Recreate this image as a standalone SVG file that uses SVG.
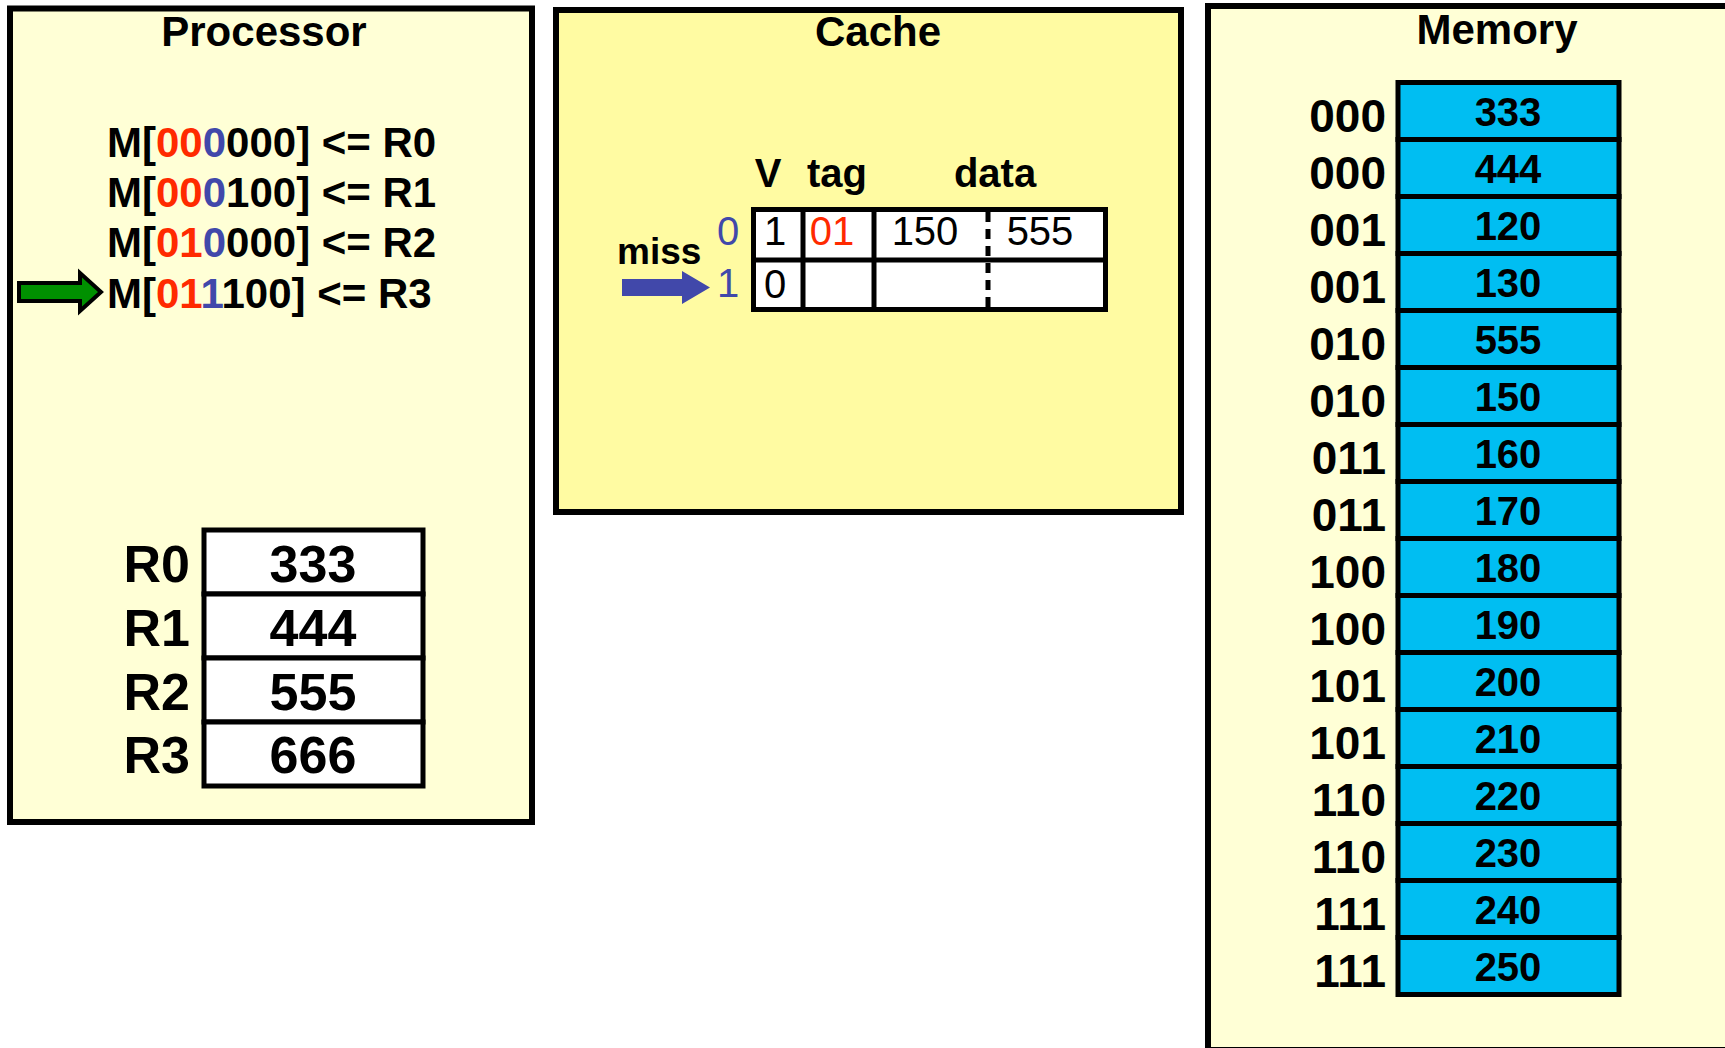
<svg xmlns="http://www.w3.org/2000/svg" width="1725" height="1048" viewBox="0 0 1725 1048">
  <style>
    text { font-family: "Liberation Sans", Arial, sans-serif; }
    .title { font-size: 42px; font-weight: bold; text-anchor: middle; fill: #000; }
    .instr { font-size: 42px; font-weight: bold; fill: #000; }
    .reg-label { font-size: 52px; font-weight: bold; text-anchor: end; }
    .reg-val { font-size: 52px; font-weight: bold; text-anchor: middle; }
    .hdr { font-size: 40px; font-weight: bold; text-anchor: middle; }
    .cell { font-size: 40px; text-anchor: middle; }
    .addr { font-size: 46px; font-weight: bold; text-anchor: end; }
    .mval { font-size: 40px; font-weight: bold; text-anchor: middle; }
    .tag { fill: #FF2A00; }
    .idx { fill: #4148AA; }
    .panel { stroke: #000; stroke-width: 6; }
    .grid { fill: #fff; stroke: #000; stroke-width: 5; }
    .mcell { fill: #00BEF2; stroke: #000; stroke-width: 5; }
  </style>

  <rect width="1725" height="1048" fill="#fff"/>

  <!-- Processor: pending stores and register file -->
  <g id="processor">
    <rect class="panel" x="10" y="8.5" width="522" height="813.5" fill="#FFFFD6"/>
    <text class="title" x="264" y="46">Processor</text>
    <text class="instr" x="107" y="157">M[<tspan class="tag">00</tspan><tspan class="idx">0</tspan>000] &lt;= R0</text>
    <text class="instr" x="107" y="207">M[<tspan class="tag">00</tspan><tspan class="idx">0</tspan>100] &lt;= R1</text>
    <text class="instr" x="107" y="257">M[<tspan class="tag">01</tspan><tspan class="idx">0</tspan>000] &lt;= R2</text>
    <text class="instr" x="107" y="308">M[<tspan class="tag">01</tspan><tspan class="idx">1</tspan>100] &lt;= R3</text>
    <g id="registers">
      <rect class="grid" x="204" y="530" width="219" height="64"/>
      <rect class="grid" x="204" y="594" width="219" height="64"/>
      <rect class="grid" x="204" y="658" width="219" height="64"/>
      <rect class="grid" x="204" y="722" width="219" height="64"/>
      <text class="reg-label" x="190" y="582">R0</text>
      <text class="reg-label" x="190" y="646">R1</text>
      <text class="reg-label" x="190" y="710">R2</text>
      <text class="reg-label" x="190" y="773">R3</text>
      <text class="reg-val" x="313" y="582">333</text>
      <text class="reg-val" x="313" y="646">444</text>
      <text class="reg-val" x="313" y="710">555</text>
      <text class="reg-val" x="313" y="773">666</text>
    </g>
  </g>

  <!-- Cache: two-line direct-mapped cache, two words per line -->
  <g id="cache">
    <rect class="panel" x="556" y="10" width="625" height="502" fill="#FFFBA2"/>
    <text class="title" x="878" y="46">Cache</text>
    <text class="hdr" x="768" y="187">V</text>
    <text class="hdr" x="837" y="187">tag</text>
    <text class="hdr" x="995" y="187">data</text>
    <rect x="753.5" y="209.5" width="352" height="100" fill="#fff" stroke="#000" stroke-width="5"/>
    <line x1="753.5" y1="260" x2="1105.5" y2="260" stroke="#000" stroke-width="5"/>
    <line x1="803" y1="209.5" x2="803" y2="309.5" stroke="#000" stroke-width="5"/>
    <line x1="874" y1="209.5" x2="874" y2="309.5" stroke="#000" stroke-width="5"/>
    <line x1="988" y1="212" x2="988" y2="307" stroke="#000" stroke-width="5" stroke-dasharray="10 7"/>
    <text class="cell idx" x="728" y="245">0</text>
    <text class="cell idx" x="728" y="297">1</text>
    <text class="cell" x="775" y="245">1</text>
    <text class="cell tag" x="832" y="245">01</text>
    <text class="cell" x="925" y="245">150</text>
    <text class="cell" x="1040" y="245">555</text>
    <text class="cell" x="775" y="298">0</text>
    <text x="617" y="264" font-size="37" font-weight="bold">miss</text>
  </g>

  <!-- Memory: sixteen words with their tag bits -->
  <g id="memory">
    <rect class="panel" x="1208" y="6" width="600" height="1044" fill="#FFFFD6"/>
    <text class="title" x="1497" y="44">Memory</text>
    <g id="memory-cells">
      <rect class="mcell" x="1398" y="82.5" width="221" height="57"/>
      <rect class="mcell" x="1398" y="139.5" width="221" height="57"/>
      <rect class="mcell" x="1398" y="196.5" width="221" height="57"/>
      <rect class="mcell" x="1398" y="253.5" width="221" height="57"/>
      <rect class="mcell" x="1398" y="310.5" width="221" height="57"/>
      <rect class="mcell" x="1398" y="367.5" width="221" height="57"/>
      <rect class="mcell" x="1398" y="424.5" width="221" height="57"/>
      <rect class="mcell" x="1398" y="481.5" width="221" height="57"/>
      <rect class="mcell" x="1398" y="538.5" width="221" height="57"/>
      <rect class="mcell" x="1398" y="595.5" width="221" height="57"/>
      <rect class="mcell" x="1398" y="652.5" width="221" height="57"/>
      <rect class="mcell" x="1398" y="709.5" width="221" height="57"/>
      <rect class="mcell" x="1398" y="766.5" width="221" height="57"/>
      <rect class="mcell" x="1398" y="823.5" width="221" height="57"/>
      <rect class="mcell" x="1398" y="880.5" width="221" height="57"/>
      <rect class="mcell" x="1398" y="937.5" width="221" height="57"/>
    </g>
    <g id="memory-addr">
      <text class="addr" x="1386" y="132">000</text>
      <text class="addr" x="1386" y="189">000</text>
      <text class="addr" x="1386" y="246">001</text>
      <text class="addr" x="1386" y="303">001</text>
      <text class="addr" x="1386" y="360">010</text>
      <text class="addr" x="1386" y="417">010</text>
      <text class="addr" x="1386" y="474">011</text>
      <text class="addr" x="1386" y="531">011</text>
      <text class="addr" x="1386" y="588">100</text>
      <text class="addr" x="1386" y="645">100</text>
      <text class="addr" x="1386" y="702">101</text>
      <text class="addr" x="1386" y="759">101</text>
      <text class="addr" x="1386" y="816">110</text>
      <text class="addr" x="1386" y="873">110</text>
      <text class="addr" x="1386" y="930">111</text>
      <text class="addr" x="1386" y="987">111</text>
    </g>
    <g id="memory-values">
      <text class="mval" x="1508" y="126">333</text>
      <text class="mval" x="1508" y="183">444</text>
      <text class="mval" x="1508" y="240">120</text>
      <text class="mval" x="1508" y="297">130</text>
      <text class="mval" x="1508" y="354">555</text>
      <text class="mval" x="1508" y="411">150</text>
      <text class="mval" x="1508" y="468">160</text>
      <text class="mval" x="1508" y="525">170</text>
      <text class="mval" x="1508" y="582">180</text>
      <text class="mval" x="1508" y="639">190</text>
      <text class="mval" x="1508" y="696">200</text>
      <text class="mval" x="1508" y="753">210</text>
      <text class="mval" x="1508" y="810">220</text>
      <text class="mval" x="1508" y="867">230</text>
      <text class="mval" x="1508" y="924">240</text>
      <text class="mval" x="1508" y="981">250</text>
    </g>
  </g>

  <!-- Pointers: current instruction and the cache line it maps to -->
  <g id="connectors">
    <polygon points="19,283 80,283 80,273 101,292 80,311 80,301 19,301" fill="#009000" stroke="#000" stroke-width="4" stroke-linejoin="miter"/>
    <polygon points="622,279 682,279 682,271 710,287.5 682,304 682,296 622,296" fill="#4148AA"/>
  </g>
</svg>
